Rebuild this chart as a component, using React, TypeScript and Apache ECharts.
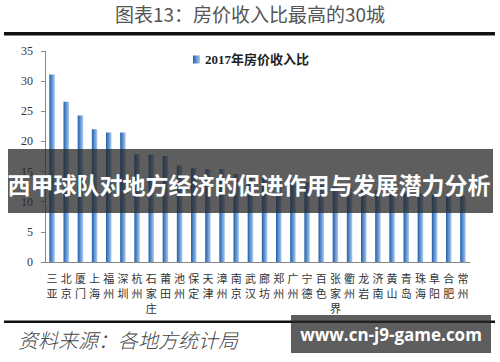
import React, { useEffect, useRef } from "react";
import * as echarts from "echarts";

const categories = [
  "三亚", "北京", "厦门", "上海", "福州", "深圳", "杭州", "石家庄", "莆田", "池州",
  "保定", "天津", "漳州", "南京", "武汉", "廊坊", "郑州", "广州", "宁德", "百色",
  "张家界", "衢州", "龙岩", "济南", "黄山", "青岛", "珠海", "阜阳", "合肥", "常州",
];
const ratio2017 = [
  31.1, 26.6, 24.3, 22.0, 21.5, 21.5, 17.9, 17.8, 17.6, 16.0,
  15.6, 15.4, 15.4, 14.6, 14.4, 14.2, 13.8, 13.5, 13.2, 12.8,
  12.5, 12.3, 12.0, 11.9, 11.7, 11.5, 11.4, 11.2, 11.1, 11.0,
];
const seriesName = "2017年房价收入比";
const yTicks = [0, 5, 10, 15, 20, 25, 30, 35];
const titleText = "图表13：房价收入比最高的30城";
const sourceText = "资料来源：各地方统计局";
const bannerText = "西甲球队对地方经济的促进作用与发展潜力分析";
const siteText = "www.cn-j9-game.com";

export default function App() {
  const ref = useRef<HTMLDivElement>(null);
  useEffect(() => {
    if (!ref.current) return;
    const chart = echarts.init(ref.current, null, { renderer: "svg" });
    const barColor = new echarts.graphic.LinearGradient(0, 0, 1, 0, [
      { offset: 0, color: "#2260a8" },
      { offset: 0.45, color: "#5a8fce" },
      { offset: 1, color: "#b0cbec" },
    ]);
    chart.setOption({
      animation: false,
      backgroundColor: "#ffffff",
      grid: { left: 45, right: 30, top: 51, bottom: 100, containLabel: false },
      legend: {
        left: 188,
        top: 48,
        icon: "rect",
        itemWidth: 7,
        itemHeight: 8,
        itemGap: 5,
        data: [seriesName],
        textStyle: {
          fontFamily: "Liberation Serif, Noto Sans CJK SC, serif",
          fontWeight: "bold",
          fontSize: 13,
          color: "#222",
        },
      },
      xAxis: {
        type: "category",
        data: categories,
        axisLine: { lineStyle: { color: "#888", width: 1 } },
        axisTick: { alignWithLabel: false, length: 4, lineStyle: { color: "#888" } },
        axisLabel: {
          interval: 0,
          margin: 8,
          fontSize: 11,
          lineHeight: 15,
          color: "#333",
          fontFamily: "Noto Sans CJK SC",
          formatter: (v: string) => v.split("").join("\n"),
        },
      },
      yAxis: {
        type: "value",
        min: 0,
        max: 35,
        interval: 5,
        splitLine: { show: false },
        axisLine: { show: true, lineStyle: { color: "#888" } },
        axisTick: { show: true, length: 4, lineStyle: { color: "#888" } },
        axisLabel: {
          margin: 12,
          fontSize: 12,
          color: "#333",
          fontFamily: "Liberation Serif, serif",
          formatter: (v: number) => (yTicks.includes(v) ? String(v) : ""),
        },
      },
      series: [
        {
          name: seriesName,
          type: "bar",
          data: ratio2017,
          barWidth: 5.5,
          itemStyle: { color: barColor },
        },
      ],
      graphic: [
        {
          type: "text",
          left: "center",
          top: 4,
          z: 100,
          style: {
            text: titleText,
            fontSize: 19,
            fontFamily: "Noto Sans CJK SC",
            fill: "#555",
          },
        },
        {
          type: "rect",
          z: 100,
          shape: { x: 4, y: 32, width: 491, height: 3.5 },
          style: { fill: "#111" },
        },
        {
          type: "rect",
          z: 100,
          shape: { x: 4, y: 320.5, width: 491, height: 2.5 },
          style: { fill: "#111" },
        },
        {
          type: "text",
          x: 18,
          y: 329,
          z: 100,
          style: {
            text: sourceText,
            fontSize: 20,
            fontStyle: "italic",
            fontFamily: "Noto Sans CJK SC",
            fontWeight: 300,
            fill: "#444",
          },
        },
        {
          type: "rect",
          z: 100,
          shape: { x: 8, y: 149, width: 485, height: 64 },
          style: { fill: "rgba(40,40,40,0.75)" },
        },
        {
          type: "text",
          x: 249,
          y: 184,
          z: 101,
          style: {
            text: bannerText,
            fontSize: 23,
            fontWeight: "bold",
            fontFamily: "Noto Sans CJK SC",
            fill: "#ffffff",
            align: "center",
            verticalAlign: "middle",
          },
        },
        {
          type: "rect",
          z: 100,
          shape: { x: 291, y: 315, width: 200, height: 38 },
          style: { fill: "rgba(40,40,40,0.75)" },
        },
        {
          type: "text",
          x: 391,
          y: 334,
          z: 101,
          style: {
            text: siteText,
            fontSize: 17,
            fontWeight: "bold",
            fontFamily: "Open Sans, Noto Sans, sans-serif",
            fill: "#ffffff",
            align: "center",
            verticalAlign: "middle",
          },
        },
      ],
    });
    return () => chart.dispose();
  }, []);
  return (
    <div
      ref={ref}
      style={{ position: "fixed", left: 0, top: 0, width: 500, height: 362 }}
    />
  );
}
